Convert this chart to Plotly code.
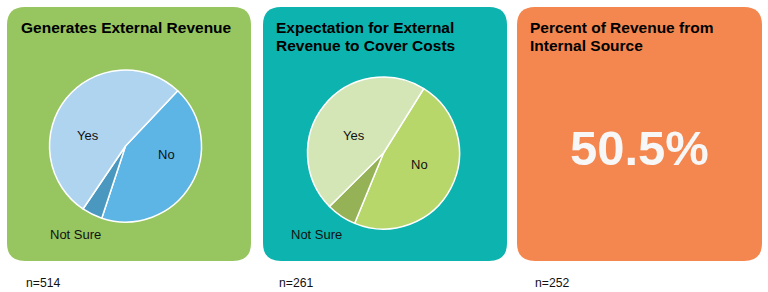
import plotly.graph_objects as go

# ---- data ----
labels = ["No", "Not Sure", "Yes"]
gen_ext_values = [43.0, 4.4, 52.6]
expect_values = [47.3, 6.4, 46.3]
panel_titles = [["Generates External Revenue"],
                ["Expectation for External", "Revenue to Cover Costs"],
                ["Percent of Revenue from", "Internal Source"]]
internal_pct = 50.5
n_values = [514, 261, 252]

W, H = 768, 292
FONT = "Liberation Sans, Arial, Helvetica, sans-serif"

panel_colors = ["#97C55F", "#0CB3AF", "#F4874F"]
panels = [(7, 7, 251, 261), (263, 7, 507, 261), (517, 7, 762, 261)]
pie1_colors = ["#5DB5E5", "#4A98C0", "#AED4F0"]
pie2_colors = ["#B8D76B", "#96B257", "#D4E6B6"]


def rrect(x0, y0, x1, y1, r):
    return (f"M {x0+r},{y0} L {x1-r},{y0} Q {x1},{y0} {x1},{y0+r} "
            f"L {x1},{y1-r} Q {x1},{y1} {x1-r},{y1} L {x0+r},{y1} "
            f"Q {x0},{y1} {x0},{y1-r} L {x0},{y0+r} Q {x0},{y0} {x0+r},{y0} Z")


fig = go.Figure()

def add_pie(values, colors, cx, cy, r, rotation):
    fig.add_trace(go.Pie(
        labels=labels, values=values, sort=False, direction="clockwise",
        rotation=rotation, textinfo="none", hoverinfo="label+percent",
        marker=dict(colors=colors, line=dict(color="white", width=1.5)),
        domain=dict(x=[(cx - r) / W, (cx + r) / W],
                    y=[1 - (cy + r) / H, 1 - (cy - r) / H]),
        showlegend=False,
    ))

add_pie(gen_ext_values, pie1_colors, 125.5, 146, 76, 43.4)
add_pie(expect_values, pie2_colors, 383.5, 153, 76, 32)

shapes = []
for (x0, y0, x1, y1), c in zip(panels, panel_colors):
    shapes.append(dict(type="path", path=rrect(x0, y0, x1, y1, 18),
                       xref="x", yref="y", fillcolor=c, line=dict(width=0),
                       layer="below"))

ann = []
title_x = [19, 274, 528]
for lines, x in zip(panel_titles, title_x):
    for i, t in enumerate(lines):
        ann.append(dict(x=x, y=27 + 18 * i, xref="x", yref="y", text=f"<b>{t}</b>",
                        showarrow=False, xanchor="left", yanchor="middle", align="left",
                        font=dict(family=FONT, size=15.5, color="black")))

# pie labels
label_pos = [
    {"Yes": (88, 135), "No": (166, 154), "Not Sure": (75, 234)},
    {"Yes": (354, 135), "No": (419, 164), "Not Sure": (316, 234)},
]
for pos in label_pos:
    for lab in labels:
        x, y = pos[lab]
        ann.append(dict(x=x, y=y, xref="x", yref="y", text=lab, showarrow=False,
                        xanchor="center", yanchor="middle",
                        font=dict(family=FONT, size=13, color="#111111")))

ann.append(dict(x=639.5, y=148, xref="x", yref="y",
                text=f"<b>{internal_pct:.1f}%</b>", showarrow=False,
                xanchor="center", yanchor="middle",
                font=dict(family=FONT, size=49, color="#F7F7F7")))

n_x = [24, 277, 533]
for n, x in zip(n_values, n_x):
    ann.append(dict(x=x, y=283, xref="x", yref="y", text=f"n={n}", showarrow=False,
                    xanchor="left", yanchor="middle",
                    font=dict(family=FONT, size=12.2, color="#111111")))

fig.update_layout(
    width=W, height=H, margin=dict(l=0, r=0, t=0, b=0),
    paper_bgcolor="white", plot_bgcolor="white",
    xaxis=dict(range=[0, W], visible=False, fixedrange=True),
    yaxis=dict(range=[H, 0], visible=False, fixedrange=True),
    shapes=shapes, annotations=ann,
)

fig.write_html("out.html")
